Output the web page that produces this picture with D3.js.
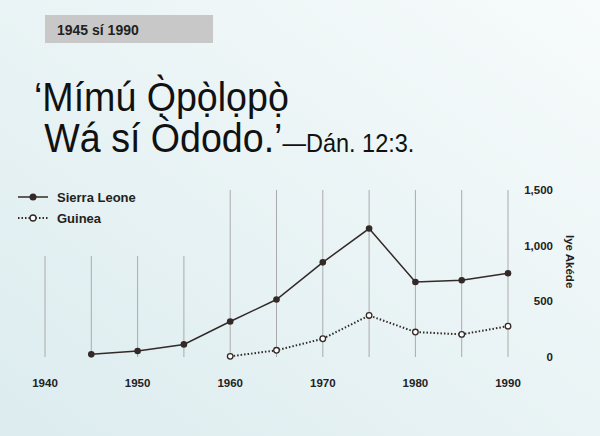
<!DOCTYPE html>
<html><head><meta charset="utf-8">
<script src="https://cdn.jsdelivr.net/npm/d3@7"></script>
<style>body{margin:0}svg{display:block}</style>
</head><body><div id="chart"></div>
<script>
const years = [1945, 1950, 1955, 1960, 1965, 1970, 1975, 1980, 1985, 1990];
const sierraLeone = [24, 54, 113, 319, 516, 850, 1154, 674, 689, 752];
const guineaYears = [1960, 1965, 1970, 1975, 1980, 1985, 1990];
const guinea = [6, 60, 164, 373, 224, 203, 277];
const xTicks = [1940, 1950, 1960, 1970, 1980, 1990];
const yTicks = [0, 500, 1000, 1500];

const width = 600, height = 436;
const svg = d3.select("#chart").append("svg").attr("width", width).attr("height", height);
const font = "'Liberation Sans', sans-serif";

const grad = svg.append("defs").append("linearGradient").attr("id", "bg")
  .attr("x1", 0).attr("y1", 1).attr("x2", 1).attr("y2", 0);
grad.append("stop").attr("offset", 0).attr("stop-color", "#dcecef");
grad.append("stop").attr("offset", 1).attr("stop-color", "#f7fbfb");
svg.append("rect").attr("width", width).attr("height", height).attr("fill", "url(#bg)");

// header tag
svg.append("rect").attr("x", 45).attr("y", 15).attr("width", 168).attr("height", 28).attr("fill", "#c8c8c8");
svg.append("text").attr("x", 57).attr("y", 35).attr("font-family", font)
  .attr("font-weight", "bold").attr("font-size", 14).attr("fill", "#222").text("1945 sí 1990");

// title, squeezed horizontally to mimic the condensed face
const title = svg.append("g").attr("transform", "translate(34,0) scale(0.94,1)")
  .attr("font-family", font).attr("fill", "#111");
title.append("text").attr("x", 0).attr("y", 111).attr("font-size", 40).text("‘Mímú Ọ̀pọ̀lọpọ̀");
const t2 = title.append("text").attr("x", 11).attr("y", 152);
t2.append("tspan").attr("font-size", 40).text("Wá sí Òdodo.’");
t2.append("tspan").attr("font-size", 25).text("—Dán. 12:3.");

const x = d3.scaleLinear().domain([1940, 1990]).range([45, 508]);
const y = d3.scaleLinear().domain([0, 1500]).range([357, 190]);

// vertical grid lines
const gridYears = d3.range(1940, 1991, 5);
svg.append("g").selectAll("line").data(gridYears).join("line")
  .attr("x1", d => x(d)).attr("x2", d => x(d))
  .attr("y1", d => d < 1960 ? 256 : 190).attr("y2", 357)
  .attr("stroke", "#aaa").attr("stroke-width", 1);

// x axis labels
svg.append("g").selectAll("text").data(xTicks).join("text")
  .attr("x", d => x(d)).attr("y", 387).attr("text-anchor", "middle")
  .attr("font-family", font).attr("font-weight", "bold").attr("font-size", 11.5)
  .attr("fill", "#222").text(d => d);

// y axis labels (right)
svg.append("g").selectAll("text").data(yTicks).join("text")
  .attr("x", 553).attr("y", d => y(d) + 4).attr("text-anchor", "end")
  .attr("font-family", font).attr("font-weight", "bold").attr("font-size", 11.5)
  .attr("fill", "#222").text(d => d3.format(",")(d));
svg.append("text").attr("transform", "translate(566,235) rotate(90)")
  .attr("font-family", font).attr("font-weight", "bold").attr("font-size", 11.5)
  .attr("fill", "#222").text("Iye Akéde");

const line = d3.line().x(d => x(d[0])).y(d => y(d[1]));
const sl = years.map((yr, i) => [yr, sierraLeone[i]]);
const gu = guineaYears.map((yr, i) => [yr, guinea[i]]);

svg.append("path").datum(sl).attr("d", line).attr("fill", "none").attr("stroke", "#332a27").attr("stroke-width", 1.5);
svg.append("g").selectAll("circle").data(sl).join("circle")
  .attr("cx", d => x(d[0])).attr("cy", d => y(d[1])).attr("r", 3.3).attr("fill", "#332a27");

svg.append("path").datum(gu).attr("d", line).attr("fill", "none").attr("stroke", "#332a27")
  .attr("stroke-width", 2).attr("stroke-dasharray", "1.5,2");
svg.append("g").selectAll("circle").data(gu).join("circle")
  .attr("cx", d => x(d[0])).attr("cy", d => y(d[1])).attr("r", 2.8)
  .attr("fill", "#fff").attr("stroke", "#332a27").attr("stroke-width", 1.3);

// legend
const lg = svg.append("g").attr("font-family", font).attr("font-weight", "bold")
  .attr("font-size", 13).attr("fill", "#222");
lg.append("line").attr("x1", 18).attr("x2", 48).attr("y1", 197).attr("y2", 197).attr("stroke", "#332a27").attr("stroke-width", 1.5);
lg.append("circle").attr("cx", 33).attr("cy", 197).attr("r", 3.5).attr("fill", "#332a27");
lg.append("text").attr("x", 57).attr("y", 201.5).text("Sierra Leone");
lg.append("line").attr("x1", 18).attr("x2", 48).attr("y1", 218).attr("y2", 218).attr("stroke", "#332a27")
  .attr("stroke-width", 2).attr("stroke-dasharray", "1.5,2");
lg.append("circle").attr("cx", 33).attr("cy", 218).attr("r", 3).attr("fill", "#fff").attr("stroke", "#332a27").attr("stroke-width", 1.3);
lg.append("text").attr("x", 57).attr("y", 222.5).text("Guinea");
</script></body></html>
